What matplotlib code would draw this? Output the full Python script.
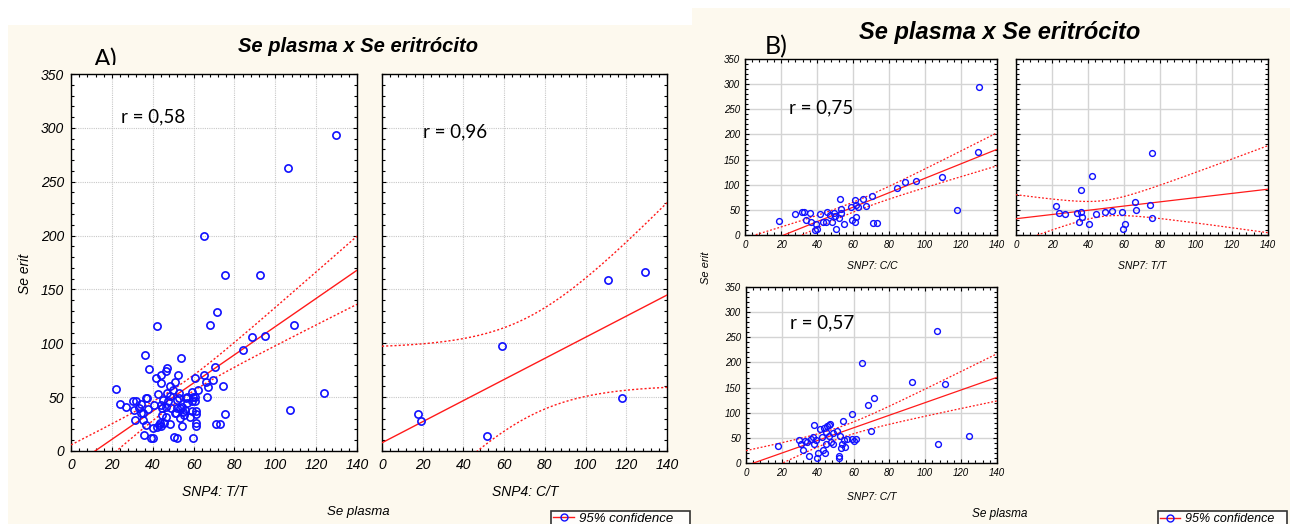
import math
import numpy as np
import matplotlib
matplotlib.use("Agg")
import matplotlib.pyplot as plt
from matplotlib.patches import Rectangle
from matplotlib.lines import Line2D
from matplotlib.transforms import Bbox

# ---- data (Se plasma, Se erit) ----
snp4_tt_x = [22.2, 24, 27, 30.5, 31.8, 31, 31.5, 33.4, 34.5, 35, 36, 36.5, 35.7, 36.6, 37.4, 37.5,
             38, 39, 40.3, 40.2, 40.5, 41.4, 41.9, 42.4, 43, 44, 44.3, 44.6, 44.3, 44.3, 45.5, 46.3,
             46.8, 46.4, 46.8, 47.6, 48.4, 48.4, 48.9, 49.7, 50.4, 50.8, 51.2, 51.7, 52, 52.6, 52.8,
             53, 53.4, 54, 54.4, 54.6, 55.4, 56.2, 56.9, 59, 59, 59.5, 59.8, 60.6, 60.6, 60.9, 61,
             61.4, 61, 61.4, 62.2, 65, 66.3, 66.7, 67.2, 68, 69.6, 70.4, 71.2, 71.5, 73, 74.5, 75.3,
             75.6, 84.4, 88.7, 92.4, 94.8, 107, 109.4, 123.9, 65, 106.4, 129.5,
             35.4, 34.4, 41.9, 45.2, 44.4, 46.5, 43.6, 48.5, 50.9, 52, 53.4, 55.8, 58.2, 59, 54.3, 57]
snp4_tt_y = [58, 44, 41, 46, 46, 38, 29, 40, 44, 35, 89, 24, 15, 49, 49.5, 39,
             76, 12, 12, 21, 43, 68, 116, 53, 24, 71, 63, 33, 43, 23, 26, 74,
             77, 41, 54, 46, 25, 60, 40, 57, 13, 64, 35, 47, 12, 71, 54,
             49, 40, 86, 23, 36, 33, 49, 45, 55, 46, 12, 50, 68, 46, 50, 34,
             37, 26, 23, 57, 71, 64, 50, 59, 117, 66, 78, 25, 129, 25, 60, 34,
             163, 94, 106, 163, 107, 38, 117, 54, 200, 263, 293,
             28.8, 35, 22.6, 47.3, 39.6, 31.3, 25.7, 51, 35, 39.6, 31, 38, 31.8, 37.4, 41, 50.4]

snp4_ct_x = [17.8, 19, 51.4, 59.1, 110.9, 117.9, 129.2]
snp4_ct_y = [34.4, 27.9, 13.9, 97.8, 159, 49.5, 166]

snp7_cc_x = [19.1, 27.6, 31.9, 32.6, 34.1, 36, 36.5, 38.8, 40.2, 39.7, 41.7, 43.4, 45.2, 45.8, 47.1,
             48.6, 49.3, 50.2, 50.8, 52.1, 53, 53.2, 53.6, 54.9, 58.9, 59.2, 61, 61, 61.9, 61.4, 62.5,
             65.5, 67.1, 70.5, 71.2, 73.4, 84.7, 88.8, 95.1, 109.6, 117.7, 129.6, 129.8]
snp7_cc_y = [27, 41, 46, 45, 30.5, 43, 25, 10, 11, 21, 42.5, 25, 25, 45, 40,
             25, 43, 38, 12.6, 33, 72, 52.5, 43, 22, 55, 30, 70, 25, 36.5, 60.4, 55,
             71, 58, 78, 24, 24, 94, 106, 107.6, 116, 50, 166, 293.5]

snp7_tt_x = [22.2, 24, 27.4, 33.7, 34.8, 36.1, 36.3, 36.4, 40.3, 42.2, 44.4, 49.2, 53.3, 59, 59.7,
             60.8, 66.2, 66.9, 74.5, 75.5, 75.6]
snp7_tt_y = [57.7, 43, 41, 43, 26.5, 89.5, 45.7, 35.8, 21, 116.6, 42.4, 46.4, 47, 45.7, 11.3,
             22.5, 65, 50.4, 60.3, 33.8, 162.4]

snp7_ct_x = [17.7, 29.7, 30.7, 32, 32.9, 33.8, 35.3, 36, 37.5, 37.9, 37.9, 39, 40.3, 39.8, 41.3,
             42.4, 43.1, 44.1, 43.5, 44.6, 44.4, 45.4, 46.1, 46.5, 46.8, 47.2, 48.3, 48.7, 50.6, 51.7,
             51.9, 52.4, 52.8, 53.3, 54.1, 54.8, 55.2, 56.1, 59, 59.3, 60.2, 61.2, 64.9, 67.9, 69.5,
             71.6, 92.4, 106.5, 106.9, 111, 124.2]
snp7_ct_y = [33, 45, 37, 26.5, 43.7, 41.7, 14, 48, 51.7, 38.4, 75, 45, 20.5, 10.6, 68,
             51.7, 25, 20.5, 70, 61.6, 37, 73, 75.5, 53.7, 77, 41.7, 59.6, 38.4, 63.6, 14,
             10, 53, 29.8, 38.4, 84, 46.4, 31.8, 47, 48.4, 96.8, 43.7, 48.4, 198.8, 115.3, 64.3,
             128.6, 161.7, 262.4, 37, 157.7, 53.7]

r_labels_a = ["r = 0,58", "r = 0,96"]
r_labels_b = ["r = 0,75", None, "r = 0,57"]

W, H = 1290, 524
fig = plt.figure(figsize=(W / 100, H / 100), dpi=100)
fig.patch.set_facecolor("white")
cream = "#fdf9ee"


def rect(x0, y0, x1, y1):
    # pixel box (top-left origin) -> figure fraction
    return [x0 / W, 1 - y1 / H, (x1 - x0) / W, (y1 - y0) / H]


def px(x, y):
    return x / W, 1 - y / H


fig.patches.append(Rectangle(px(8, 524), 684 / W, 499 / H, transform=fig.transFigure,
                             facecolor=cream, edgecolor="none", zorder=-10))
fig.patches.append(Rectangle(px(692, 524), 598 / W, 516 / H, transform=fig.transFigure,
                             facecolor=cream, edgecolor="none", zorder=-10))


def t_crit(df, p=0.975):
    xs = np.linspace(0, 30, 300001)
    c = math.gamma((df + 1) / 2) / (math.sqrt(df * math.pi) * math.gamma(df / 2))
    pdf = c * (1 + xs ** 2 / df) ** (-(df + 1) / 2)
    cdf = 0.5 + np.concatenate([[0], np.cumsum((pdf[1:] + pdf[:-1]) / 2) * (xs[1] - xs[0])])
    return xs[np.searchsorted(cdf, p)]


def panel(rc, x, y, rtext, rpos, small, show_y):
    ax = fig.add_axes(rc)
    x = np.asarray(x, float)
    y = np.asarray(y, float)
    ax.set_xlim(0, 140)
    ax.set_ylim(0, 350)
    ax.set_xticks(np.arange(0, 141, 20))
    ax.set_yticks(np.arange(0, 351, 50))
    ax.set_xticks(np.arange(0, 141, 4), minor=True)
    ax.set_yticks(np.arange(0, 351, 10), minor=True)
    fs = 7 if small else 10
    ax.tick_params(which="both", direction="in", top=True, right=True, width=0.8,
                   labelsize=fs, pad=3.5 if small else 5)
    ax.tick_params(which="major", length=3)
    ax.tick_params(which="minor", length=2)
    for lab in ax.get_xticklabels() + ax.get_yticklabels():
        lab.set_fontstyle("italic")
        lab.set_family("Liberation Sans")
    if not show_y:
        ax.set_yticklabels([])
    if small:
        ax.grid(True, which="major", color="#d4d4d4", lw=1.0, ls="-")
    else:
        ax.grid(True, which="major", color="#c8c8c8", lw=0.8, ls=(0, (1, 1)))
    ax.set_axisbelow(True)
    for s in ax.spines.values():
        s.set_linewidth(1.0)

    # linear fit with 95% confidence band for the mean
    n = len(x)
    b, a = np.polyfit(x, y, 1)
    xs = np.linspace(0, 140, 300)
    fit = a + b * xs
    resid = y - (a + b * x)
    s = np.sqrt(np.sum(resid ** 2) / (n - 2))
    se = s * np.sqrt(1 / n + (xs - x.mean()) ** 2 / np.sum((x - x.mean()) ** 2))
    t = t_crit(n - 2)
    lw = 0.9 if small else 1.0
    ax.plot(xs, fit, color="#ff1a1a", lw=lw, zorder=3)
    ax.plot(xs, fit + t * se, color="#ff1a1a", lw=lw, ls=(0, (1.5, 1.5)), zorder=3)
    ax.plot(xs, fit - t * se, color="#ff1a1a", lw=lw, ls=(0, (1.5, 1.5)), zorder=3)
    ax.plot(x, y, ls="none", marker="o", mfc="none", mec="#1010ff",
            ms=4.2 if small else 5.2, mew=1.0 if small else 1.2, zorder=4)
    if rtext:
        ax.text(rpos[0], rpos[1], rtext, transform=ax.transAxes, family="Lato",
                fontsize=13.5, va="center", ha="left")
    return ax


# panel A
panel(rect(71, 74, 357, 451), snp4_tt_x, snp4_tt_y, r_labels_a[0], (0.175, 0.886), False, True)
panel(rect(382, 74, 667, 451), snp4_ct_x, snp4_ct_y, r_labels_a[1], (0.145, 0.846), False, False)

# panel B
panel(rect(745, 59, 997, 235), snp7_cc_x, snp7_cc_y, r_labels_b[0], (0.175, 0.72), True, True)
panel(rect(1016, 59, 1268, 235), snp7_tt_x, snp7_tt_y, r_labels_b[1], None, True, False)
panel(rect(746, 287, 997, 463), snp7_ct_x, snp7_ct_y, r_labels_b[2], (0.175, 0.795), True, True)

it = dict(family="Liberation Sans", style="italic")
fig.text(*px(358, 46), "Se plasma x Se eritrócito", ha="center", va="center",
         fontsize=14.5, weight="bold", **it)
fig.text(*px(1000, 32), "Se plasma x Se eritrócito", ha="center", va="center",
         fontsize=17, weight="bold", **it)
ta = fig.text(*px(106, 67), "A)", ha="center", va="baseline", fontsize=18, family="Lato")
ta.set_clip_box(Bbox([[0, H - 65], [W, H]]))
ta.set_clip_on(True)
fig.text(*px(776, 54), "B)", ha="center", va="baseline", fontsize=18, family="Lato")

fig.text(*px(25, 274), "Se erit", rotation=90, ha="center", va="center", fontsize=10, **it)
fig.text(*px(706, 268), "Se erit", rotation=90, ha="center", va="center", fontsize=8, **it)
fig.text(*px(214, 492), "SNP4: T/T", ha="center", va="center", fontsize=10, **it)
fig.text(*px(525, 492), "SNP4: C/T", ha="center", va="center", fontsize=10, **it)
fig.text(*px(358, 512), "Se plasma", ha="center", va="center", fontsize=9.5, **it)
fig.text(*px(872, 266), "SNP7: C/C", ha="center", va="center", fontsize=7.5, **it)
fig.text(*px(1142, 266), "SNP7: T/T", ha="center", va="center", fontsize=7.5, **it)
fig.text(*px(872, 497), "SNP7: C/T", ha="center", va="center", fontsize=7.5, **it)
fig.text(*px(1000, 514), "Se plasma", ha="center", va="center", fontsize=8.5, **it)

# legends
handle = Line2D([], [], color="#ff1a1a", lw=1, marker="o", mfc="none", mec="#1010ff", ms=5)
for x0, x1, y0, fsz in [(551, 690, 504, 9.5), (1158, 1287, 506, 9)]:
    lg = fig.legend([handle], ["95% confidence"], loc="lower left",
                    bbox_to_anchor=(x0 / W, 1 - 527 / H, (x1 - x0) / W, (527 - y0) / H),
                    mode="expand", frameon=True, fancybox=False, edgecolor="black",
                    handlelength=1.6, handletextpad=0.4, borderpad=0.15, borderaxespad=0,
                    prop=dict(family="Liberation Sans", style="italic", size=fsz))
    lg.get_frame().set_linewidth(1.2)
    lg.get_frame().set_facecolor("white")

fig.savefig("out.png", dpi=100)
